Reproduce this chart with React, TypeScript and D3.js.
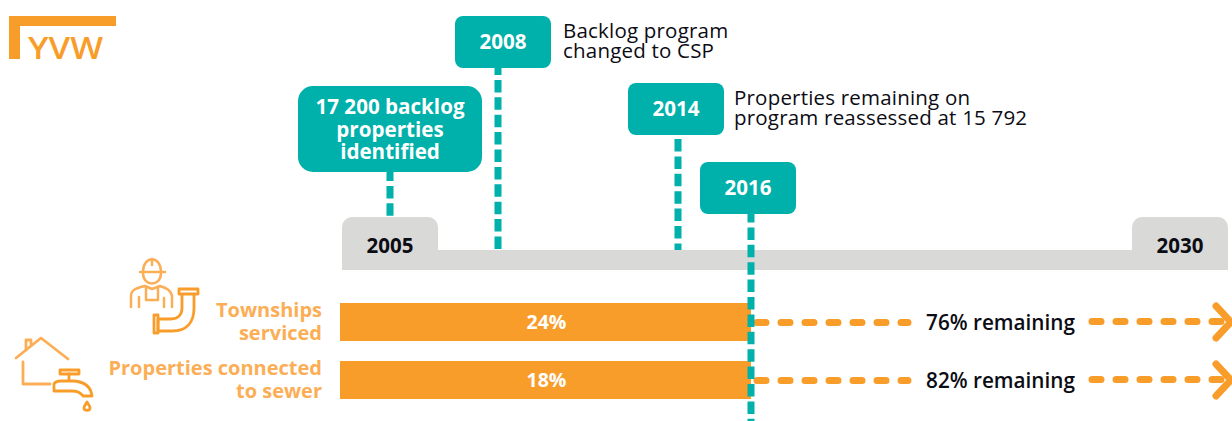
import React from "react";
import * as d3 from "d3";

const W = 1232, H = 421;
const TEAL = "#00B0AA", ORANGE = "#F99D2A", LIGHT = "#FBAE55", GREY = "#D9D9D7", INK = "#0C0C14";
const FONT = "'Open Sans', sans-serif";

const timelineYears = [2005, 2008, 2014, 2016, 2030];
const timelineStops = [390, 498, 678, 751, 1180];
const events = [
  { year: 2005, lines: ["17 200 backlog", "properties", "identified"], note: [] as string[] },
  { year: 2008, lines: ["2008"], note: ["Backlog program", "changed to CSP"] },
  { year: 2014, lines: ["2014"], note: ["Properties remaining on", "program reassessed at 15 792"] },
  { year: 2016, lines: ["2016"], note: [] as string[] },
];
const categories = [["Townships", "serviced"], ["Properties connected", "to sewer"]];
const achieved = [24, 18];
const remaining = [76, 82];

const x = d3.scaleLinear().domain(timelineYears).range(timelineStops);
const y = d3.scaleBand<number>().domain([0, 1]).range([303, 399]).paddingInner(20 / 58).paddingOuter(0);

const boxes = [
  { x: 298, y: 86, w: 184, h: 86, r: 15, lineStart: 168.5, lineEnd: 217, noteX: 0 },
  { x: 455, y: 16, w: 96, h: 52, r: 8, lineStart: 62.5, lineEnd: 250, noteX: 563 },
  { x: 628, y: 83, w: 96, h: 52, r: 8, lineStart: 139, lineEnd: 250, noteX: 734 },
  { x: 700, y: 162, w: 96, h: 52, r: 8, lineStart: 210, lineEnd: 421, noteX: 0 },
];

const tab = (x0: number, x1: number, top: number, bottom: number, r: number) => {
  const p = d3.path();
  p.moveTo(x0, bottom);
  p.lineTo(x0, top + r);
  p.arcTo(x0, top, x0 + r, top, r);
  p.lineTo(x1 - r, top);
  p.arcTo(x1, top, x1, top + r, r);
  p.lineTo(x1, bottom);
  p.closePath();
  return p.toString();
};

export default function App() {
  return (
    <svg width={W} height={H} viewBox={`0 0 ${W} ${H}`} style={{ position: "fixed", left: 0, top: 0, background: "#fff" }} fontFamily={FONT}>
      {/* logo */}
      <path d="M9 16H116V26H20V59H9Z" fill={ORANGE} />
      <text x={28} y={59} fontSize={31} fontWeight={600} fill={ORANGE} textLength={75} lengthAdjust="spacingAndGlyphs">YVW</text>

      {/* timeline */}
      <rect x={342} y={250} width={886} height={20} fill={GREY} />
      <path d={tab(342, 438, 217, 250, 10)} fill={GREY} />
      <path d={tab(1132, 1228, 217, 250, 10)} fill={GREY} />
      <text x={x(2005)} y={253} textAnchor="middle" fontSize={20.5} fontWeight={700} fill={INK}>2005</text>
      <text x={x(2030)} y={253} textAnchor="middle" fontSize={20.5} fontWeight={700} fill={INK}>2030</text>

      {/* bars */}
      {achieved.map((v, i) => {
        const by = y(i)!, bh = y.bandwidth(), cy = by + bh / 2;
        const end = x(2016);
        return (
          <g key={i}>
            <rect x={340} y={by} width={end - 340} height={bh} fill={ORANGE} />
            <text x={(340 + end) / 2 + 1} y={cy + 7} textAnchor="middle" fontSize={19.5} fontWeight={700} fill="#fff">{v}%</text>
            <line x1={757} x2={908} y1={cy + 0.5} y2={cy + 0.5} stroke={ORANGE} strokeWidth={7} strokeLinecap="round" strokeDasharray="9 15" />
            <line x1={1092} x2={1222} y1={cy - 0.5} y2={cy - 0.5} stroke={ORANGE} strokeWidth={7} strokeLinecap="round" strokeDasharray="9 15" />
            <path d={`M1216 ${cy - 16}L1231 ${cy}L1216 ${cy + 16}`} fill="none" stroke={ORANGE} strokeWidth={7} strokeLinecap="round" strokeLinejoin="round" />
            <text x={1000.5} y={cy + 8} textAnchor="middle" fontSize={20.7} fontWeight={600} fill={INK}>{remaining[i]}% remaining</text>
            {categories[i].map((t, j) => (
              <text key={j} x={322} y={cy - 5 + j * 23} textAnchor="end" fontSize={20} fontWeight={700} fill={LIGHT}>{t}</text>
            ))}
          </g>
        );
      })}

      {/* events */}
      {events.map((e, i) => {
        const b = boxes[i];
        const cx = x(e.year);
        const startY = b.y + b.h / 2 - (e.lines.length - 1) * 11 + 7;
        return (
          <g key={e.year}>
            <line x1={cx} x2={cx} y1={b.lineStart} y2={b.lineEnd} stroke={TEAL} strokeWidth={7} strokeDasharray="12.5 4.9" />
            <rect x={b.x} y={b.y} width={b.w} height={b.h} rx={b.r} fill={TEAL} />
            {e.lines.map((t, j) => (
              <text key={j} x={b.x + b.w / 2} y={startY + j * 22.5} textAnchor="middle" fontSize={20.6} fontWeight={700} fill="#fff">{t}</text>
            ))}
            {e.note.map((t, j) => (
              <text key={j} x={b.noteX} y={b.y + 22 + j * 20} fontSize={20.5} letterSpacing={0.2} fill={INK}>{t}</text>
            ))}
          </g>
        );
      })}

      {/* worker + pipe icon */}
      <g fill="none" stroke={LIGHT} strokeWidth={2.5} strokeLinecap="round" strokeLinejoin="round">
        <path d="M140 272H165M143 272C143 255 161 255 161 272M152 259V265" />
        <path d="M143 273C143 287 161 287 161 273" />
        <path d="M131 307V296C131 290 136 288 145 286L152 289L160 286C166 288 171 290 172 296V307" />
        <path d="M139 307V297M146 287V300H158V287M164 298V307" />
      </g>
      <g fill="none" stroke={ORANGE} strokeWidth={2.8} strokeLinejoin="round">
        <path d="M179 289H198V294H179Z" />
        <path d="M182 294V308C182 315 178 319 171 319H158V331H172C187 331 194 322 194 308V294" />
        <path d="M154 315H158V333H154Z" />
      </g>

      {/* house + tap icon */}
      <g fill="none" stroke={LIGHT} strokeWidth={2.8} strokeLinecap="round" strokeLinejoin="round">
        <path d="M16 358L41 338L68 359" />
        <path d="M26 350V340H31V344" />
        <path d="M23 362V384H50" />
      </g>
      <g fill="none" stroke={ORANGE} strokeWidth={2.8} strokeLinecap="round" strokeLinejoin="round">
        <path d="M60 370H79V374H60Z" />
        <path d="M69 374V380" />
        <path d="M54 384V391H72C78 391 81 393 83 396H92C91 387 85 382 74 381H61C58 381 55 382 54 384Z" />
        <path d="M87 402C85 405 84 407 84 408C84 411 90 411 90 408C90 407 89 405 87 402Z" />
      </g>
    </svg>
  );
}
